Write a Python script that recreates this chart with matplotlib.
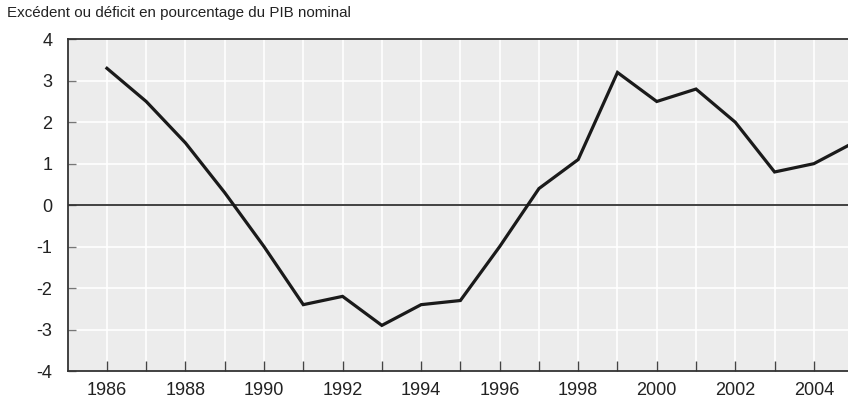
import matplotlib.pyplot as plt
import numpy as np

plt.rcParams['font.family'] = ['Liberation Sans', 'DejaVu Sans']

years = list(range(1986, 2006))
solde = [3.3, 2.5, 1.5, 0.3, -1.0, -2.4, -2.2, -2.9, -2.4, -2.3,
         -1.0, 0.4, 1.1, 3.2, 2.5, 2.8, 2.0, 0.8, 1.0, 1.5]
label_years = list(range(1986, 2005, 2))
titre = "Excédent ou déficit en pourcentage du PIB nominal"

fig = plt.figure(figsize=(8.48, 4.03), dpi=100)
ax = fig.add_axes([0.0798, 0.0794, 0.9202, 0.8231])
ax.set_facecolor('#ececec')

ax.set_xlim(1985, 2004.87)
ax.set_ylim(-4, 4)

ax.set_xticks(range(1986, 2005), minor=True)
ax.set_xticks(label_years)
ax.set_xticklabels([str(y) for y in label_years])
ax.set_yticks(range(-4, 5))
ax.set_yticklabels([str(v) for v in range(-4, 5)])

for yr in range(1986, 2005):
    ax.axvline(yr, color='white', lw=1.2, zorder=1)
for v in range(-3, 4):
    ax.axhline(v, color='white', lw=1.2, zorder=1)
ax.axhline(0, color='#333333', lw=1.3, zorder=2)

ax.plot(years, solde, color='#1a1a1a', lw=2.3, zorder=3, solid_joinstyle='miter')

ax.tick_params(axis='x', which='both', direction='in', length=7, width=1,
               color='#444444', pad=8, labelsize=13, labelcolor='#222222')
ax.tick_params(axis='y', direction='in', length=6, width=1, color='#777777',
               pad=11, labelsize=13, labelcolor='#222222')

for side in ['left', 'bottom', 'top']:
    ax.spines[side].set_color('#333333')
    ax.spines[side].set_linewidth(1.3)
ax.spines['right'].set_visible(False)

fig.text(0.008, 0.967, titre, fontsize=10.9, color='#222222', va='center', ha='left')

fig.savefig('out.png', dpi=100)
